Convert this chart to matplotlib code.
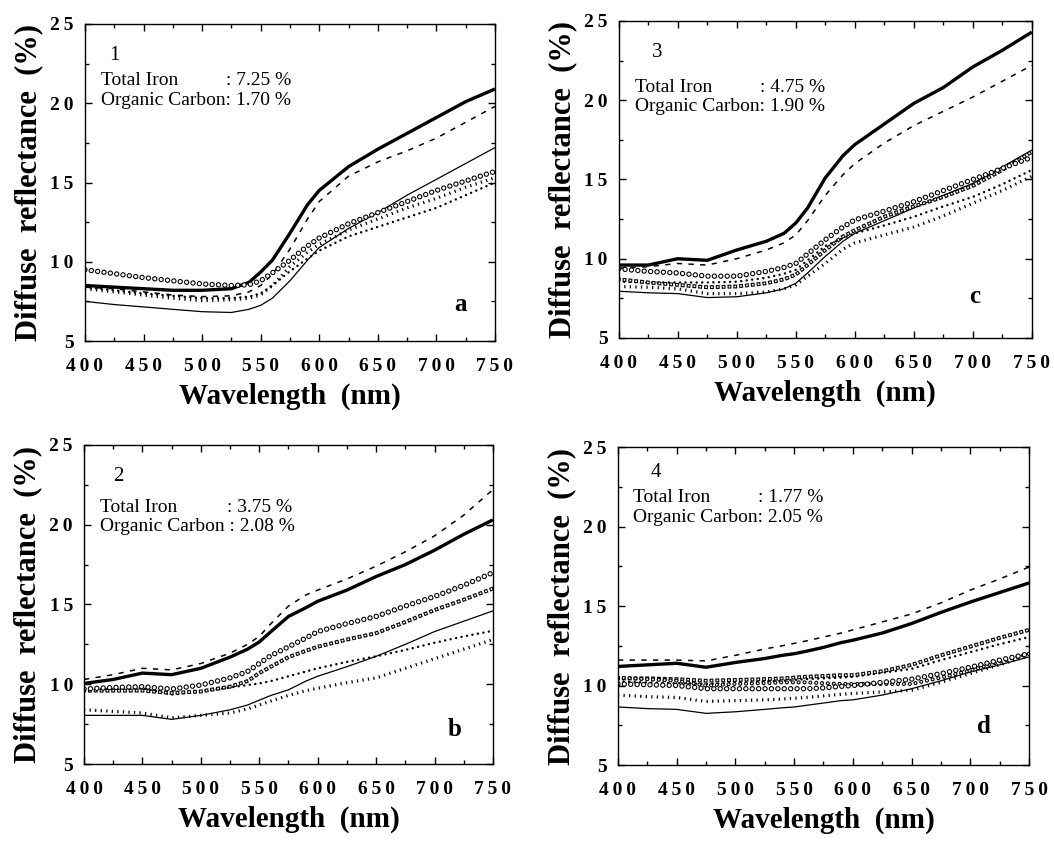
import numpy as np
import matplotlib
matplotlib.use("Agg")
import matplotlib.pyplot as plt
from matplotlib.ticker import MultipleLocator, FuncFormatter

plt.rcParams["lines.scale_dashes"] = False
plt.rcParams["font.family"] = ["Liberation Serif", "DejaVu Serif"]

# ---------------- data ----------------
wl = [400, 425, 450, 475, 500, 525, 540, 550, 560, 575, 590, 600, 625, 650, 675, 700, 725, 750]

# panel a : sample 1
a_thick = [8.5, 8.4, 8.3, 8.2, 8.2, 8.3, 8.7, 9.35, 10.1, 11.8, 13.6, 14.5, 16.0, 17.1, 18.1, 19.1, 20.1, 20.9]
a_dashed = [8.4, 8.3, 8.1, 7.9, 7.8, 7.85, 8.1, 8.5, 9.2, 10.8, 12.7, 13.8, 15.4, 16.3, 17.0, 17.8, 18.8, 19.8]
a_thin = [7.5, 7.3, 7.15, 7.0, 6.85, 6.8, 7.0, 7.25, 7.7, 8.8, 10.1, 10.9, 12.1, 13.1, 14.2, 15.2, 16.2, 17.2]
a_circ = [9.5, 9.25, 9.0, 8.8, 8.6, 8.5, 8.55, 8.8, 9.3, 10.1, 11.0, 11.5, 12.4, 13.1, 13.8, 14.5, 15.1, 15.7]
a_tri = [8.3, 8.1, 7.9, 7.7, 7.55, 7.6, 7.7, 7.9, 8.5, 9.7, 10.6, 11.1, 12.0, 12.7, 13.4, 14.0, 14.7, 15.3]
a_dot = [8.4, 8.2, 8.0, 7.85, 7.7, 7.7, 7.8, 8.0, 8.5, 9.4, 10.2, 10.7, 11.6, 12.2, 12.8, 13.4, 14.2, 15.0]

# panel b : sample 2
b_dashed = [10.3, 10.6, 11.0, 10.9, 11.3, 11.95, 12.5, 13.0, 13.8, 14.9, 15.6, 15.9, 16.6, 17.4, 18.3, 19.3, 20.6, 22.2]
b_thick = [10.05, 10.3, 10.7, 10.6, 11.0, 11.7, 12.2, 12.65, 13.3, 14.25, 14.8, 15.2, 15.9, 16.75, 17.5, 18.4, 19.4, 20.3]
b_circ = [9.7, 9.8, 9.85, 9.7, 9.95, 10.4, 10.8, 11.3, 11.8, 12.35, 12.9, 13.3, 13.8, 14.25, 14.9, 15.5, 16.2, 17.0]
b_sq = [9.6, 9.6, 9.6, 9.45, 9.55, 9.85, 10.2, 10.7, 11.1, 11.7, 12.1, 12.35, 12.8, 13.2, 13.9, 14.65, 15.3, 16.0]
b_dot = [9.65, 9.7, 9.75, 9.35, 9.55, 9.8, 9.95, 10.05, 10.2, 10.5, 10.8, 11.0, 11.4, 11.75, 12.15, 12.6, 13.0, 13.35]
b_tri = [8.4, 8.3, 8.2, 7.9, 8.05, 8.2, 8.45, 8.7, 8.95, 9.3, 9.6, 9.75, 10.1, 10.4, 11.0, 11.6, 12.2, 12.8]
b_thin = [8.05, 8.05, 8.05, 7.8, 8.05, 8.4, 8.7, 9.0, 9.3, 9.65, 10.2, 10.5, 11.1, 11.75, 12.5, 13.3, 13.95, 14.6]

# panel c : sample 3
c_thick = [9.6, 9.6, 10.0, 9.9, 10.55, 11.1, 11.6, 12.25, 13.2, 15.1, 16.5, 17.2, 18.5, 19.8, 20.8, 22.1, 23.15, 24.3]
c_dashed = [9.4, 9.5, 9.7, 9.6, 10.0, 10.55, 11.0, 11.5, 12.4, 14.0, 15.3, 16.0, 17.3, 18.4, 19.3, 20.2, 21.2, 22.2]
c_circ = [9.36, 9.2, 9.1, 8.9, 8.9, 9.2, 9.45, 9.7, 10.3, 11.2, 12.0, 12.45, 13.0, 13.6, 14.3, 15.0, 15.7, 16.4]
c_sq = [8.7, 8.5, 8.35, 8.2, 8.25, 8.45, 8.7, 9.0, 9.6, 10.55, 11.4, 11.8, 12.65, 13.3, 13.9, 14.6, 15.6, 16.75]
c_dot = [8.55, 8.5, 8.5, 8.5, 8.55, 8.8, 9.05, 9.3, 9.9, 10.8, 11.3, 11.6, 12.1, 12.65, 13.3, 13.9, 14.7, 15.6]
c_tri = [8.25, 8.2, 8.1, 7.8, 7.8, 7.9, 8.1, 8.35, 8.9, 9.7, 10.6, 11.0, 11.5, 12.0, 12.7, 13.5, 14.3, 15.2]
c_thin = [7.95, 7.85, 7.8, 7.55, 7.6, 7.85, 8.1, 8.45, 9.1, 10.15, 11.1, 11.6, 12.4, 13.2, 14.0, 14.75, 15.8, 16.85]

# panel d : sample 4
d_dashed = [11.6, 11.6, 11.6, 11.55, 11.9, 12.3, 12.5, 12.65, 12.8, 13.05, 13.3, 13.5, 14.0, 14.5, 15.2, 16.0, 16.7, 17.45]
d_thick = [11.2, 11.3, 11.4, 11.15, 11.45, 11.7, 11.9, 12.0, 12.15, 12.4, 12.7, 12.85, 13.3, 13.9, 14.6, 15.25, 15.85, 16.45]
d_sq = [10.45, 10.45, 10.4, 10.3, 10.35, 10.4, 10.45, 10.5, 10.55, 10.6, 10.65, 10.65, 10.9, 11.3, 11.9, 12.45, 13.0, 13.5]
d_dot = [10.25, 10.2, 10.15, 10.1, 10.15, 10.25, 10.3, 10.35, 10.4, 10.45, 10.5, 10.55, 10.8, 11.05, 11.6, 12.1, 12.6, 13.05]
d_otri = [10.5, 10.4, 10.3, 10.0, 10.1, 10.15, 10.2, 10.2, 10.2, 10.15, 10.1, 10.1, 10.1, 10.1, 10.5, 10.95, 11.5, 12.0]
d_circ = [10.1, 10.05, 10.0, 9.8, 9.8, 9.8, 9.8, 9.8, 9.8, 9.85, 9.95, 10.0, 10.2, 10.4, 10.75, 11.15, 11.6, 12.0]
d_tri = [9.4, 9.3, 9.25, 9.0, 9.05, 9.1, 9.15, 9.2, 9.25, 9.35, 9.45, 9.5, 9.6, 9.7, 10.2, 10.75, 11.3, 11.9]
d_thin = [8.65, 8.55, 8.5, 8.25, 8.35, 8.5, 8.6, 8.65, 8.75, 8.9, 9.05, 9.1, 9.4, 9.8, 10.3, 10.85, 11.3, 11.8]

sample_no = ["1", "2", "3", "4"]
total_iron = ["7.25", "3.75", "4.75", "1.77"]
org_carbon = ["1.70", "2.08", "1.90", "2.05"]
panel_letter = ["a", "b", "c", "d"]

# ---------------- line styles ----------------
def dots(lw, gap, cap="round", color="black"):
    return dict(lw=lw, ls=(0, (0.01, gap)), dash_capstyle=cap, color=color)

styles = {
    "thick": [dict(lw=2.4, ls="-", color="black")],
    "dashed": [dict(lw=1.1, ls=(0, (3.8, 4.6)), color="black")],
    "thin": [dict(lw=0.9, ls="-", color="black")],
    "circ": [dots(3.9, 4.6), dots(2.3, 4.6, color="white")],
    "sq": [dots(2.8, 4.2, "projecting"), dots(1.2, 4.2, "projecting", "white")],
    "otri": [dots(3.0, 4.2), dots(1.4, 4.2, color="white")],
    "dot": [dots(1.8, 4.0)],
    "tri": [dict(lw=2.3, ls=(0, (0.9, 3.1)), dash_capstyle="butt", color="black")],
}

panels = [
    [("thick", a_thick), ("dashed", a_dashed), ("thin", a_thin), ("tri", a_tri), ("dot", a_dot), ("circ", a_circ)],
    [("dashed", b_dashed), ("thick", b_thick), ("thin", b_thin), ("tri", b_tri), ("dot", b_dot), ("sq", b_sq), ("circ", b_circ)],
    [("thick", c_thick), ("dashed", c_dashed), ("thin", c_thin), ("tri", c_tri), ("dot", c_dot), ("sq", c_sq), ("circ", c_circ)],
    [("dashed", d_dashed), ("thick", d_thick), ("thin", d_thin), ("tri", d_tri), ("dot", d_dot), ("sq", d_sq), ("otri", d_otri), ("circ", d_circ)],
]

# axes boxes in figure fractions (left, bottom, width, height)
boxes = [
    [0.0806, 0.595, 0.389, 0.3765],
    [0.0797, 0.0926, 0.388, 0.379],
    [0.587, 0.5986, 0.392, 0.3765],
    [0.5863, 0.0914, 0.390, 0.3777],
]
txt_y = [(0.90, 0.823, 0.76), (0.90, 0.805, 0.743), (0.90, 0.79, 0.73), (0.92, 0.84, 0.777)]
txt_x = [(0.06, 0.04, 0.344), (0.07, 0.04, 0.349), (0.08, 0.039, 0.341), (0.08, 0.036, 0.34)]
letter_xy = [(0.915, 0.114), (0.907, 0.107), (0.862, 0.13), (0.89, 0.12)]
carbon_sep = [": ", " : ", ": ", ": "]

fig = plt.figure(figsize=(10.54, 8.42), dpi=100)

spaced = FuncFormatter(lambda v, p: "\u2009".join(str(int(round(v)))))

for i in range(4):
    ax = fig.add_axes(boxes[i])
    for key, vals in panels[i]:
        for st in styles[key]:
            ax.plot(wl, vals, solid_capstyle="butt", solid_joinstyle="round", **st)
    ax.set_xlim(400, 750)
    ax.set_ylim(5, 25)
    ax.xaxis.set_major_locator(MultipleLocator(50))
    ax.xaxis.set_minor_locator(MultipleLocator(25))
    ax.yaxis.set_major_locator(MultipleLocator(5))
    ax.yaxis.set_minor_locator(MultipleLocator(2.5))
    ax.xaxis.set_major_formatter(spaced)
    ax.yaxis.set_major_formatter(spaced)
    ax.tick_params(which="both", direction="in", top=True, right=True, width=1.0)
    ax.tick_params(which="major", length=5)
    ax.tick_params(which="minor", length=3)
    ax.tick_params(axis="x", which="major", pad=12, labelsize=14)
    ax.tick_params(axis="y", which="major", pad=8, labelsize=14)
    for lab in ax.get_xticklabels() + ax.get_yticklabels():
        lab.set_fontweight("bold")
    for sp in ax.spines.values():
        sp.set_linewidth(1.0)

    ax.set_xlabel("Wavelength  (nm)", fontsize=21, fontweight="bold", labelpad=6)
    ax.set_ylabel("Diffuse  reflectance  (%)", fontsize=22, fontweight="bold", labelpad=5)

    nx, tx, cx = txt_x[i]
    ny, ty, cy = txt_y[i]
    ax.text(nx, ny, sample_no[i], transform=ax.transAxes, fontsize=15, va="center")
    ax.text(tx, ty, "Total Iron", transform=ax.transAxes, fontsize=14, va="center")
    ax.text(cx, ty, ": " + total_iron[i] + " %", transform=ax.transAxes, fontsize=14, va="center")
    ax.text(tx, cy, "Organic Carbon" + carbon_sep[i] + org_carbon[i] + " %", transform=ax.transAxes,
            fontsize=14, va="center")
    lx, ly = letter_xy[i]
    ax.text(lx, ly, panel_letter[i], transform=ax.transAxes, fontsize=18, fontweight="bold",
            ha="center", va="center")

fig.savefig("out.png", dpi=100)
